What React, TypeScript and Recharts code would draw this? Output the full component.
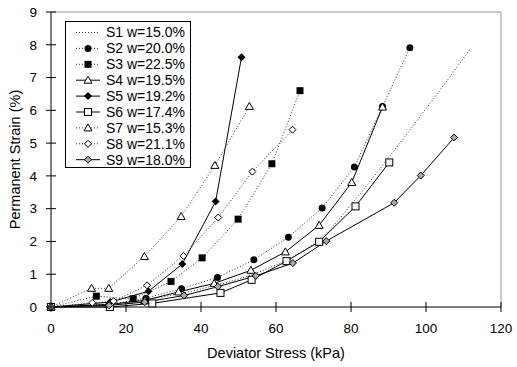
import { LineChart, Line, XAxis, YAxis, ReferenceLine } from "recharts";

// values
const S1_X = [0, 20, 40, 55, 63, 72, 82, 91, 101, 112];
const S1_Y = [0, 0.15, 0.55, 1.05, 1.45, 2.1, 3.4, 4.7, 6.2, 7.9];
const S2_X = [0, 15.7, 25.3, 34.8, 44.4, 54.1, 63.3, 72.3, 80.9, 88.4, 95.7];
const S2_Y = [0, 0.07, 0.27, 0.56, 0.9, 1.44, 2.13, 3.02, 4.27, 6.12, 7.91];
const S3_X = [0, 12.1, 21.9, 32, 40.3, 49.9, 58.9, 66.4];
const S3_Y = [0, 0.33, 0.25, 0.78, 1.5, 2.68, 4.37, 6.6];
const S4_X = [0, 15.5, 25, 34, 43.5, 53.3, 62.5, 71.5, 80.2, 88.4];
const S4_Y = [0, 0.08, 0.2, 0.46, 0.72, 1.12, 1.68, 2.49, 3.8, 6.1];
const S5_X = [0, 15.8, 26, 35, 43.9, 50.8];
const S5_Y = [0, 0.15, 0.48, 1.31, 3.22, 7.62];
const S6_X = [0, 15.7, 27, 45.2, 53.5, 62.8, 71.5, 81.2, 90.2];
const S6_Y = [0, 0, 0.11, 0.43, 0.83, 1.4, 1.99, 3.07, 4.41];
const S7_X = [0, 10.8, 15.4, 24.9, 34.7, 43.7, 52.9];
const S7_Y = [0, 0.57, 0.57, 1.54, 2.76, 4.32, 6.12];
const S8_X = [0, 11, 16.7, 25.6, 35.3, 44.6, 53.7, 64.4];
const S8_Y = [0, 0.13, 0.18, 0.66, 1.56, 2.73, 4.13, 5.41];
const S9_X = [0, 15.5, 25, 35.5, 44.5, 54.6, 64.5, 73.4, 91.5, 98.6, 107.5];
const S9_Y = [0, 0.05, 0.15, 0.35, 0.62, 0.95, 1.34, 2.01, 3.18, 4.01, 5.17];

const X_TICKS = [0, 20, 40, 60, 80, 100, 120];
const Y_TICKS = [0, 1, 2, 3, 4, 5, 6, 7, 8, 9];

const FONT = "'Liberation Sans', Arial, sans-serif";
const AXIS_X = 51;
const AXIS_Y = 307;

type Marker =
  | "none"
  | "circle"
  | "square"
  | "triangle"
  | "diamond"
  | "squareOpen"
  | "diamondOpen"
  | "diamondGray";

const zip = (xs: number[], ys: number[]) => xs.map((x, i) => ({ x, y: ys[i] }));

const series: { key: string; label: string; data: { x: number; y: number }[]; dotted: boolean; marker: Marker }[] = [
  { key: "s1", label: "S1 w=15.0%", data: zip(S1_X, S1_Y), dotted: true, marker: "none" },
  { key: "s2", label: "S2 w=20.0%", data: zip(S2_X, S2_Y), dotted: true, marker: "circle" },
  { key: "s3", label: "S3 w=22.5%", data: zip(S3_X, S3_Y), dotted: true, marker: "square" },
  { key: "s4", label: "S4 w=19.5%", data: zip(S4_X, S4_Y), dotted: false, marker: "triangle" },
  { key: "s5", label: "S5 w=19.2%", data: zip(S5_X, S5_Y), dotted: false, marker: "diamond" },
  { key: "s6", label: "S6 w=17.4%", data: zip(S6_X, S6_Y), dotted: false, marker: "squareOpen" },
  { key: "s7", label: "S7 w=15.3%", data: zip(S7_X, S7_Y), dotted: true, marker: "triangle" },
  { key: "s8", label: "S8 w=21.1%", data: zip(S8_X, S8_Y), dotted: true, marker: "diamondOpen" },
  { key: "s9", label: "S9 w=18.0%", data: zip(S9_X, S9_Y), dotted: false, marker: "diamondGray" },
];

function MarkerShape({ type, cx, cy }: { type: Marker; cx: number; cy: number }) {
  switch (type) {
    case "circle":
      return <circle cx={cx} cy={cy} r={3.5} fill="#000" />;
    case "square":
      return <rect x={cx - 3.5} y={cy - 3.5} width={7} height={7} fill="#000" />;
    case "triangle":
      return (
        <polygon
          points={`${cx},${cy - 4} ${cx + 4},${cy + 3} ${cx - 4},${cy + 3}`}
          fill="#fff"
          stroke="#000"
          strokeWidth={1}
        />
      );
    case "diamond":
      return (
        <polygon
          points={`${cx},${cy - 4} ${cx + 4},${cy} ${cx},${cy + 4} ${cx - 4},${cy}`}
          fill="#000"
        />
      );
    case "squareOpen":
      return <rect x={cx - 3.5} y={cy - 3.5} width={7} height={7} fill="#fff" stroke="#000" />;
    case "diamondOpen":
      return (
        <polygon
          points={`${cx},${cy - 3.5} ${cx + 3.5},${cy} ${cx},${cy + 3.5} ${cx - 3.5},${cy}`}
          fill="#fff"
          stroke="#000"
        />
      );
    case "diamondGray":
      return (
        <polygon
          points={`${cx},${cy - 3.5} ${cx + 3.5},${cy} ${cx},${cy + 3.5} ${cx - 3.5},${cy}`}
          fill="#aaa"
          stroke="#000"
        />
      );
    default:
      return null;
  }
}

const XTick = (props: any) => {
  const { x, payload } = props;
  return (
    <g>
      <line x1={x} x2={x} y1={AXIS_Y - 5} y2={AXIS_Y + 5} stroke="#000" />
      <text x={x} y={AXIS_Y + 21} dy="0.355em" textAnchor="middle" fontSize={13.5} fill="#000" fontFamily={FONT}>
        {payload.value}
      </text>
    </g>
  );
};

const YTick = (props: any) => {
  const { y, payload } = props;
  return (
    <g>
      <line x1={AXIS_X - 5} x2={AXIS_X + 5} y1={y} y2={y} stroke="#000" />
      <text x={37} y={y} dy="0.355em" textAnchor="end" fontSize={13.5} fill="#000" fontFamily={FONT}>
        {payload.value}
      </text>
    </g>
  );
};

function LegendBox() {
  return (
    <svg width={127} height={148} style={{ position: "absolute", left: 65, top: 21 }}>
      <rect x={0.5} y={0.5} width={125} height={146} fill="#fff" stroke="#000" />
      {series.map((s, i) => {
        const cy = 11.5 + i * 15.9;
        return (
          <g key={s.key}>
            <line
              x1={11}
              x2={35}
              y1={cy}
              y2={cy}
              stroke={s.dotted ? "#333" : "#000"}
              strokeDasharray={s.dotted ? "1 2" : undefined}
            />
            <MarkerShape type={s.marker} cx={23} cy={cy} />
            <text x={41} y={cy} dy="0.355em" fontSize={14} fontFamily={FONT} fill="#000">
              {s.label}
            </text>
          </g>
        );
      })}
    </svg>
  );
}

export default function App() {
  return (
    <div style={{ position: "absolute", left: 0, top: 0, width: 517, height: 367, background: "#fff" }}>
      <LineChart width={517} height={367} margin={{ top: 12, right: 16, left: 0, bottom: 20 }}>
        <XAxis
          type="number"
          dataKey="x"
          domain={[0, 120]}
          ticks={X_TICKS}
          tick={XTick}
          tickLine={false}
          axisLine={{ stroke: "#000" }}
          height={40}
          allowDuplicatedCategory={false}
          label={{
            value: "Deviator Stress (kPa)",
            position: "center",
            dy: 26,
            fontSize: 14.5,
            fill: "#000",
            fontFamily: FONT,
          }}
        />
        <YAxis
          type="number"
          dataKey="y"
          domain={[0, 9]}
          ticks={Y_TICKS}
          tick={YTick}
          tickLine={false}
          axisLine={{ stroke: "#000" }}
          width={51}
          label={{
            value: "Permanent Strain (%)",
            angle: -90,
            position: "center",
            dx: -11,
            fontSize: 14.5,
            fill: "#000",
            fontFamily: FONT,
          }}
        />
        <ReferenceLine y={9} stroke="#999" />
        <ReferenceLine x={120} stroke="#999" />
        {series.map((s) => (
          <Line
            key={s.key}
            data={s.data}
            dataKey="y"
            name={s.label}
            type={s.marker === "none" ? "monotone" : "linear"}
            stroke={s.dotted ? "#333" : "#000"}
            strokeWidth={1}
            strokeDasharray={s.dotted ? "1 2" : undefined}
            dot={(p: any) => <MarkerShape key={`${s.key}-${p.index}`} type={s.marker} cx={p.cx} cy={p.cy} />}
            activeDot={false}
            isAnimationActive={false}
          />
        ))}
      </LineChart>
      <LegendBox />
    </div>
  );
}
